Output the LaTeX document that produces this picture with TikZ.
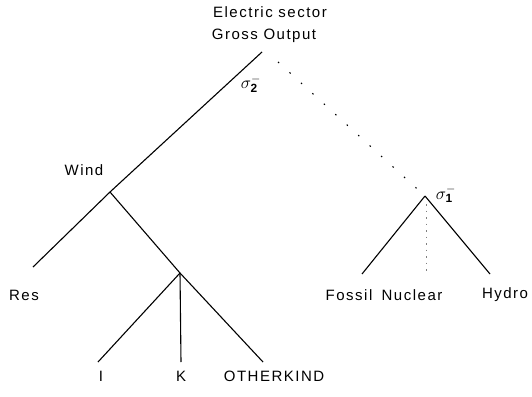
\documentclass[tikz,border=0pt]{standalone}
\usepackage{fontspec}
\setmainfont{Liberation Sans}[LetterSpace=10]
\begin{document}
\begin{tikzpicture}[x=1pt,y=-1pt,
  lbl/.style={font=\fontsize{15}{17}\selectfont, inner sep=0pt},
  sig/.style={font=\fontsize{17}{19}\selectfont, inner sep=0pt},
  edge/.style={line width=1.1pt},
  sparse/.style={line width=1.1pt, dash pattern=on 1.5pt off 14pt},
  fine/.style={line width=0.6pt, gray, dash pattern=on 1.5pt off 5pt}]
\useasboundingbox (0,0) rectangle (532,396);
% top labels
\node[lbl] (t1) at (270,12) {Electric sector};
\node[lbl] (t2) at (264,36) {Gross Output};
% junction points
\coordinate (top) at (262,52);
\coordinate (dtop) at (278,62);
\coordinate (wind) at (110,192);
\coordinate (sub) at (180,273);
\coordinate (apex) at (425,196);
\coordinate (apexm) at (426,204);
\coordinate (resend) at (33,267);
\coordinate (iend) at (98,362);
\coordinate (kend) at (181,362);
\coordinate (oend) at (263,362);
\coordinate (fend) at (362,274);
\coordinate (nend) at (426,273);
\coordinate (hend) at (490,274);
% connectors
\draw[edge] (top) -- (wind);
\draw[sparse] (dtop) -- (apex);
\draw[edge] (wind) -- (resend);
\draw[edge] (wind) -- (sub);
\draw[edge] (sub) -- (iend);
\draw[edge] (sub) -- (kend);
\draw[edge] (sub) -- (oend);
\draw[edge] (apex) -- (fend);
\draw[edge] (apex) -- (hend);
\draw[fine] (apexm) -- (nend);
% sigma labels
\node[sig] (s2) at (251,84) {$\sigma^{-}_{\mathbf{2}}$};
\node[sig] (s1) at (446,194) {$\sigma^{-}_{\mathbf{1}}$};
% leaf and inner labels
\node[lbl] (lwind) at (84,170) {Wind};
\node[lbl] (lres) at (24,295) {Res};
\node[lbl] (li) at (101,376) {I};
\node[lbl] (lk) at (181,376) {K};
\node[lbl] (lo) at (274,376) {OTHERKIND};
\node[lbl] (lf) at (349,295) {Fossil};
\node[lbl] (ln) at (412,295) {Nuclear};
\node[lbl] (lh) at (505,295) {Hydro};
\end{tikzpicture}
\end{document}
